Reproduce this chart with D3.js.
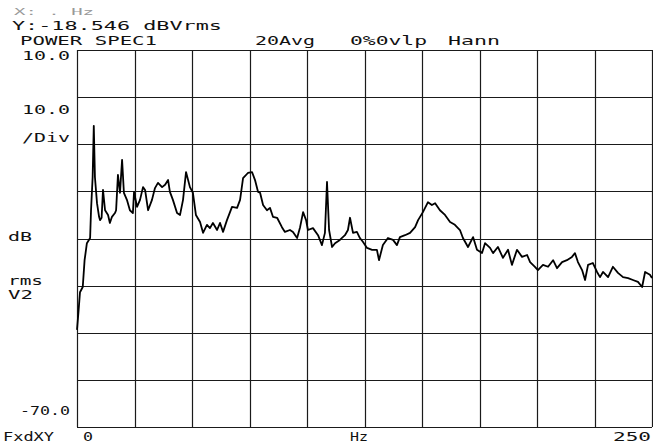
<!DOCTYPE html>
<html>
<head>
<meta charset="utf-8">
<script src="https://cdn.jsdelivr.net/npm/d3@7"></script>
<style>
	body { margin: 0; background: #fff; }
	text { font-family: "DejaVu Sans Mono", monospace; font-size: 13px; fill: #111; }
</style>
</head>
<body>
<svg id="chart" width="653" height="443"></svg>
<script>
// spectrum trace (Hz, dB)
var freqHz = [0, 0.7, 1.3, 2.5, 3.3, 4.3, 5.7, 6.1, 6.8, 7.3, 7.8, 8.7, 9.6, 10.0, 10.7, 11.3, 12.2, 13.5, 14.3, 15.2,
	16.5, 17.0, 17.8, 18.7, 19.6, 20.4, 21.7, 23.0, 24.3, 24.8, 26.1, 27.4, 28.7, 29.6, 30.9, 32.6, 33.9, 35.2, 37.0, 38.3,
	39.6, 40.4, 41.7, 43.5, 44.8, 46.1, 47.4, 49.1, 50.4, 51.7, 53.5, 54.8, 56.5, 57.8, 59.1, 60.9, 62.2, 63.5, 65.2, 67.4,
	69.6, 70.9, 72.2, 74.3, 76.1, 77.4, 78.7, 79.6, 80.9, 82.6, 83.9, 85.2, 87.0, 89.1, 90.4, 92.6, 93.9, 95.7, 97.0, 98.3,
	99.6, 100.4, 102.6, 104.8, 106.5, 107.8, 108.7, 109.6, 110.9, 112.2, 114.3, 116.5, 117.8, 118.7, 120.0, 121.7, 123.0, 124.3, 126.1, 128.3,
	130.4, 131.3, 133.0, 135.2, 137.4, 139.1, 140.4, 142.6, 144.8, 147.0, 148.3, 150.4, 152.6, 154.3, 155.7, 157.8, 160.0, 162.2, 164.3, 166.5,
	167.8, 170.0, 172.2, 173.9, 176.1, 177.4, 179.6, 180.9, 183.0, 185.2, 187.4, 189.1, 191.3, 193.5, 195.7, 197.0, 199.1, 200.4, 202.6, 204.8,
	207.0, 208.7, 210.9, 213.0, 215.2, 216.5, 217.8, 219.6, 220.9, 222.2, 224.3, 226.1, 227.4, 228.7, 230.9, 233.0, 235.2, 237.4, 239.6, 241.7,
	243.9, 245.7, 247.0, 249.1, 250];
var powerDb = [-49.4, -45.2, -41.4, -40.3, -34.6, -31.0, -29.9, -24.0, -17.0, -6.1, -17.0, -22.5, -25.4, -26.1, -25.6, -19.7, -24.0, -25.0, -26.7, -25.4,
	-24.6, -24.0, -16.5, -20.3, -13.3, -20.3, -21.8, -24.0, -24.6, -20.1, -23.3, -21.8, -19.1, -19.7, -24.0, -21.8, -19.3, -18.2, -19.1, -18.6,
	-17.6, -20.1, -21.8, -24.6, -25.0, -21.8, -15.9, -19.1, -20.3, -25.0, -26.5, -28.8, -27.1, -27.8, -26.7, -28.2, -26.7, -28.6, -26.1, -23.3,
	-23.5, -21.8, -17.2, -16.1, -15.9, -17.6, -20.1, -20.3, -22.9, -24.0, -23.5, -25.4, -25.6, -27.6, -28.6, -28.2, -28.6, -29.9, -27.6, -24.4,
	-26.1, -28.2, -27.8, -29.3, -31.4, -28.8, -18.0, -28.2, -31.8, -31.0, -30.3, -29.3, -28.2, -25.6, -28.8, -28.6, -29.9, -30.7, -32.0, -32.4,
	-32.4, -34.6, -31.4, -29.9, -30.3, -31.4, -29.7, -29.3, -28.8, -27.6, -26.1, -24.4, -22.3, -22.9, -22.5, -24.0, -25.0, -26.5, -27.1, -28.2,
	-29.9, -31.8, -29.7, -32.4, -33.1, -31.0, -32.0, -33.1, -31.8, -34.1, -32.4, -35.6, -32.4, -33.9, -33.5, -35.0, -36.0, -36.7, -35.6, -36.0,
	-34.6, -36.3, -35.0, -34.6, -33.9, -33.1, -35.0, -36.7, -38.8, -35.6, -35.2, -37.1, -38.2, -37.1, -38.2, -36.0, -37.3, -38.2, -38.4, -38.8,
	-39.2, -40.3, -37.1, -37.7, -38.4];

var xTicks = d3.range(0, 251, 25);
var yTicks = d3.range(-70, 11, 10);
var xTickLabels = ["0", "250"];
var yTickLabels = ["10.0", "-70.0"];

var plot = { left: 77, right: 652, top: 50, bottom: 427 };

var x = d3.scaleLinear().domain([0, 250]).range([plot.left, plot.right]);
var y = d3.scaleLinear().domain([-70, 10]).range([plot.bottom, plot.top]);

var svg = d3.select("#chart");

// grid
var grid = svg.append("g").attr("stroke", "#1a1a1a").attr("stroke-width", 1.2);
grid.selectAll("line.h").data(yTicks).enter().append("line")
	.attr("class", "h")
	.attr("x1", plot.left).attr("x2", plot.right)
	.attr("y1", function (d) { return Math.round(y(d)) + 0.5; })
	.attr("y2", function (d) { return Math.round(y(d)) + 0.5; });
grid.selectAll("line.v").data(xTicks).enter().append("line")
	.attr("class", "v")
	.attr("y1", plot.top).attr("y2", plot.bottom)
	.attr("x1", function (d) { return Math.round(x(d)) + 0.5; })
	.attr("x2", function (d) { return Math.round(x(d)) + 0.5; });

// trace
var data = freqHz.map(function (f, i) { return { f: f, db: powerDb[i] }; });
var line = d3.line()
	.x(function (d) { return x(d.f); })
	.y(function (d) { return y(d.db); });
svg.append("path")
	.datum(data)
	.attr("d", line)
	.attr("fill", "none")
	.attr("stroke", "#000")
	.attr("stroke-width", 1.8)
	.attr("stroke-linejoin", "round");

// plotter style text, stretched to the widths seen on the print
function label(str, px, py, w, anchor, size) {
	var t = svg.append("text")
		.attr("x", px).attr("y", py)
		.attr("text-anchor", anchor || "start")
		.text(str);
	if (w) t.attr("textLength", w).attr("lengthAdjust", "spacingAndGlyphs");
	if (size) t.style("font-size", size + "px");
	return t;
}

label("X:  .  Hz", 14, 15, 80, "start", 9).style("fill", "#999");
label("Y:-18.546 dBVrms", 12, 30, 210);
label("POWER SPEC1", 20, 45, 137);
label("20Avg", 255, 45, 60);
label("0%0vlp", 350, 45, 77);
label("Hann", 448, 45, 52);

label(yTickLabels[0], 70, 60, 48, "end");
label("10.0", 70, 114, 48, "end");
label("/Div", 70, 142, 48, "end");
label("dB", 8, 241, 24);
label("rms", 8, 285, 35, "start", 12);
label("V2", 8, 299, 25, "start", 12);
label(yTickLabels[1], 70, 415, 50, "end");

label("FxdXY", 3, 441, 51);
label(xTickLabels[0], x(0) + 6, 441, 10);
label("Hz", 350, 441, 18);
label(xTickLabels[1], 651, 441, 38, "end");
</script>
</body>
</html>
